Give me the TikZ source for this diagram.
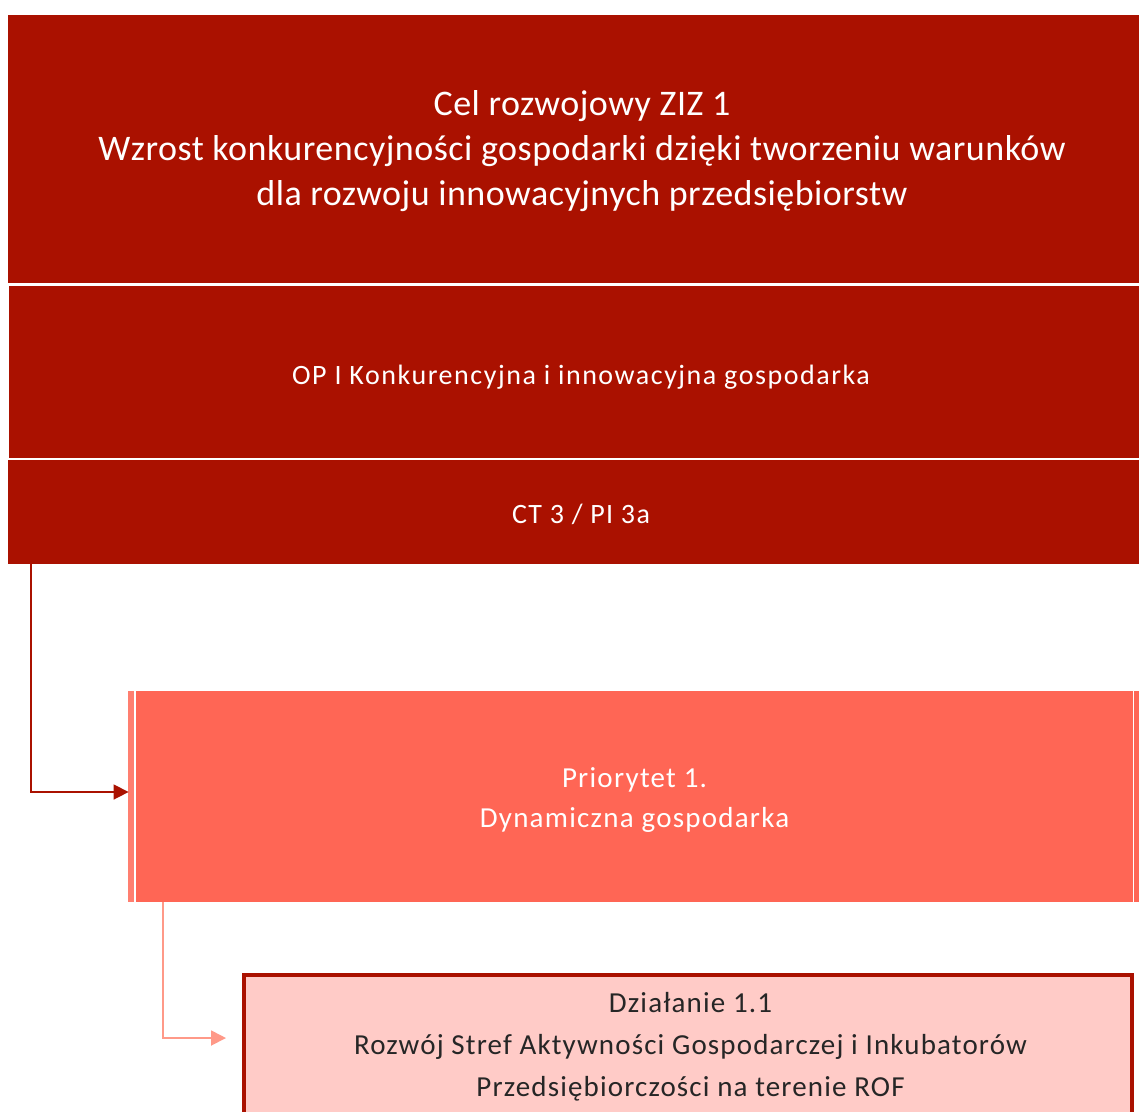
\documentclass[tikz,border=0pt]{standalone}
\usepackage{fontspec}
\setmainfont{Carlito}
\usetikzlibrary{arrows.meta}
\definecolor{darkred}{HTML}{AA1100}
\definecolor{salmon}{HTML}{FF6655}
\definecolor{salmonlt}{HTML}{FF7F70}
\definecolor{pinkfill}{HTML}{FFCBC7}
\definecolor{arrowpink}{HTML}{FF9988}
\definecolor{bodytext}{HTML}{262626}
\tikzset{
  box/.style={draw=none, inner sep=0pt, outer sep=0pt},
  txt/.style={inner sep=0pt, outer sep=0pt, align=center},
  conn/.style={line width=1.6pt, -{Triangle[length=15pt,width=15pt]}},
}
\begin{document}
\begin{tikzpicture}[x=1pt,y=-1pt]
\useasboundingbox (0,0) rectangle (1139,1111);
\fill[white] (0,0) rectangle (1139,1111);
% top boxes
\fill[darkred] (8,15) rectangle (1139,283);
\fill[darkred] (9,286) rectangle (1139,457.5);
\fill[darkred] (8,460) rectangle (1139,564);
\node[box, minimum width=1131pt, minimum height=104pt] (ct) at (573.5,512) {};
\node[txt, text=white, font=\fontsize{36}{45}\selectfont\addfontfeature{LetterSpace=1.4}] (t1) at (582,151) {Cel rozwojowy ZIZ 1\\Wzrost konkurencyjności gospodarki dzięki tworzeniu warunków\\dla rozwoju innowacyjnych przedsiębiorstw};
\node[txt, text=white, font=\fontsize{28}{30}\selectfont\addfontfeature{LetterSpace=5.5}] (t2) at (581,377.5) {OP I Konkurencyjna i innowacyjna gospodarka};
\node[txt, text=white, font=\fontsize{28}{30}\selectfont\addfontfeature{LetterSpace=5}] (t3) at (581,514.5) {CT 3 / PI 3a};
% salmon box
\fill[salmonlt] (128.3,691) rectangle (134,902);
\fill[salmon] (135.7,691) rectangle (1132.7,902);
\fill[salmon] (1134.3,691) rectangle (1139,902);
\node[box, minimum width=1010pt, minimum height=211pt] (prio) at (633.6,796.5) {};
\node[txt, text=white, font=\fontsize{29}{40}\selectfont\addfontfeature{LetterSpace=4.3}] (t4) at (634.5,800) {Priorytet 1.\\Dynamiczna gospodarka};
% bottom box
\fill[pinkfill, draw=darkred, line width=4pt] (243.7,974.7) rectangle (1132,1130);
\node[box, minimum width=892pt, minimum height=160pt] (dz) at (688,1050) {};
\node[txt, text=bodytext, font=\fontsize{29}{42}\selectfont\addfontfeature{LetterSpace=4}] (t5) at (690.5,1047) {Działanie 1.1\\Rozwój Stref Aktywności Gospodarczej i Inkubatorów\\Przedsiębiorczości na terenie ROF};
% connectors
\coordinate (a1) at (31,564);
\draw[conn, darkred, line width=1.6pt] (a1) |- (prio.west |- 0,792) ;
\coordinate (a2) at (162.7,902);
\draw[conn, arrowpink, line width=1.8pt] (a2) |- (226,1038) coordinate (a2e);
\end{tikzpicture}
\end{document}
